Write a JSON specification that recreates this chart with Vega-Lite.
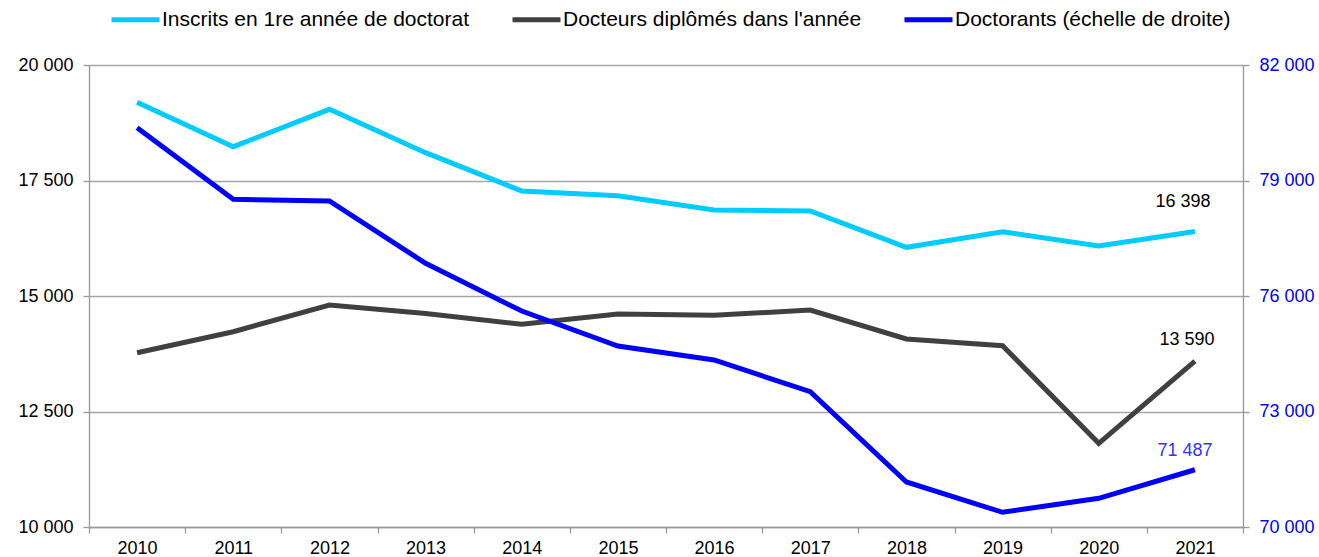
{
  "$schema": "https://vega.github.io/schema/vega-lite/v6.json",
  "width": 1154,
  "height": 462,
  "autosize": {"type": "none"},
  "padding": {"left": 89, "top": 65, "right": 76, "bottom": 30},
  "config": {
    "font": "Liberation Sans",
    "view": {"stroke": null},
    "locale": {"number": {"decimal": ",", "thousands": " ", "grouping": [3], "currency": ["", " €"]}},
    "axis": {"labelFont": "Liberation Sans", "labelFontSize": 18, "labelColor": "#000000", "domainColor": "#999999", "tickColor": "#999999", "gridColor": "#a6a6a6", "domainWidth": 1.3, "tickWidth": 1.3, "gridWidth": 1.3, "tickSize": 6, "title": null}
  },
  "data": {"values": [
    {"year": "2010", "series": "Inscrits en 1re année de doctorat", "value": 19193},
    {"year": "2011", "series": "Inscrits en 1re année de doctorat", "value": 18232},
    {"year": "2012", "series": "Inscrits en 1re année de doctorat", "value": 19041},
    {"year": "2013", "series": "Inscrits en 1re année de doctorat", "value": 18102},
    {"year": "2014", "series": "Inscrits en 1re année de doctorat", "value": 17273},
    {"year": "2015", "series": "Inscrits en 1re année de doctorat", "value": 17171},
    {"year": "2016", "series": "Inscrits en 1re année de doctorat", "value": 16861},
    {"year": "2017", "series": "Inscrits en 1re année de doctorat", "value": 16840},
    {"year": "2018", "series": "Inscrits en 1re année de doctorat", "value": 16054},
    {"year": "2019", "series": "Inscrits en 1re année de doctorat", "value": 16392},
    {"year": "2020", "series": "Inscrits en 1re année de doctorat", "value": 16082},
    {"year": "2021", "series": "Inscrits en 1re année de doctorat", "value": 16398},
    {"year": "2010", "series": "Docteurs diplômés dans l'année", "value": 13773},
    {"year": "2011", "series": "Docteurs diplômés dans l'année", "value": 14227},
    {"year": "2012", "series": "Docteurs diplômés dans l'année", "value": 14805},
    {"year": "2013", "series": "Docteurs diplômés dans l'année", "value": 14620},
    {"year": "2014", "series": "Docteurs diplômés dans l'année", "value": 14387},
    {"year": "2015", "series": "Docteurs diplômés dans l'année", "value": 14610},
    {"year": "2016", "series": "Docteurs diplômés dans l'année", "value": 14582},
    {"year": "2017", "series": "Docteurs diplômés dans l'année", "value": 14697},
    {"year": "2018", "series": "Docteurs diplômés dans l'année", "value": 14069},
    {"year": "2019", "series": "Docteurs diplômés dans l'année", "value": 13924},
    {"year": "2020", "series": "Docteurs diplômés dans l'année", "value": 11812},
    {"year": "2021", "series": "Docteurs diplômés dans l'année", "value": 13590},
    {"year": "2010", "series": "Doctorants (échelle de droite)", "value": 80371},
    {"year": "2011", "series": "Doctorants (échelle de droite)", "value": 78512},
    {"year": "2012", "series": "Doctorants (échelle de droite)", "value": 78468},
    {"year": "2013", "series": "Doctorants (échelle de droite)", "value": 76849},
    {"year": "2014", "series": "Doctorants (échelle de droite)", "value": 75610},
    {"year": "2015", "series": "Doctorants (échelle de droite)", "value": 74701},
    {"year": "2016", "series": "Doctorants (échelle de droite)", "value": 74338},
    {"year": "2017", "series": "Doctorants (échelle de droite)", "value": 73514},
    {"year": "2018", "series": "Doctorants (échelle de droite)", "value": 71169},
    {"year": "2019", "series": "Doctorants (échelle de droite)", "value": 70382},
    {"year": "2020", "series": "Doctorants (échelle de droite)", "value": 70745},
    {"year": "2021", "series": "Doctorants (échelle de droite)", "value": 71487}
  ]},
  "encoding": {
    "x": {"field": "year", "type": "ordinal", "bandPosition": 0.5,
      "scale": {"type": "band", "paddingInner": 0, "paddingOuter": 0},
      "axis": {"labelAngle": 0, "tickBand": "extent", "labelPadding": 6, "grid": false}}
  },
  "layer": [
    {
      "layer": [
        {
          "transform": [{"filter": "datum.series !== 'Doctorants (échelle de droite)'"}],
          "mark": {"type": "line", "strokeWidth": 5},
          "encoding": {
            "y": {"field": "value", "type": "quantitative",
              "scale": {"domain": [10000, 20000], "nice": false, "zero": false},
              "axis": {"orient": "left", "values": [10000, 12500, 15000, 17500, 20000], "format": ",d", "grid": true, "labelPadding": 10}},
            "color": {"field": "series", "type": "nominal",
              "scale": {"domain": ["Inscrits en 1re année de doctorat", "Docteurs diplômés dans l'année", "Doctorants (échelle de droite)"], "range": ["#00CCFF", "#404040", "#0000FF"]},
              "legend": {"orient": "none", "direction": "horizontal", "legendX": 20, "legendY": -72, "title": null,
                "symbolType": "stroke", "symbolStrokeWidth": 5, "symbolSize": 2304, "labelFontSize": 21, "labelFont": "Liberation Sans", "labelColor": "#000000", "labelOffset": 0, "columnPadding": 32, "labelLimit": 500}}
          }
        },
        {
          "transform": [{"filter": "datum.series === 'Inscrits en 1re année de doctorat' && datum.year === '2021'"}],
          "mark": {"type": "text", "fontSize": 18, "color": "#000000", "dx": -12, "dy": -24, "baseline": "alphabetic"},
          "encoding": {"y": {"field": "value", "type": "quantitative"}, "text": {"field": "value", "type": "quantitative", "format": ",d"}}
        },
        {
          "transform": [{"filter": "datum.series === \"Docteurs diplômés dans l'année\" && datum.year === '2021'"}],
          "mark": {"type": "text", "fontSize": 18, "color": "#000000", "dx": -8, "dy": -16, "baseline": "alphabetic"},
          "encoding": {"y": {"field": "value", "type": "quantitative"}, "text": {"field": "value", "type": "quantitative", "format": ",d"}}
        }
      ]
    },
    {
      "layer": [
        {
          "transform": [{"filter": "datum.series === 'Doctorants (échelle de droite)'"}],
          "mark": {"type": "line", "strokeWidth": 5},
          "encoding": {
            "y": {"field": "value", "type": "quantitative",
              "scale": {"domain": [70000, 82000], "nice": false, "zero": false},
              "axis": {"orient": "right", "values": [70000, 73000, 76000, 79000, 82000], "format": ",d", "grid": false, "labelColor": "#0000FF", "labelPadding": 10}},
            "color": {"field": "series", "type": "nominal"}
          }
        },
        {
          "transform": [{"filter": "datum.series === 'Doctorants (échelle de droite)' && datum.year === '2021'"}],
          "mark": {"type": "text", "fontSize": 18, "color": "#3333FF", "dx": -10, "dy": -14, "baseline": "alphabetic"},
          "encoding": {"y": {"field": "value", "type": "quantitative"}, "text": {"field": "value", "type": "quantitative", "format": ",d"}}
        }
      ]
    }
  ],
  "resolve": {"scale": {"y": "independent"}}
}
